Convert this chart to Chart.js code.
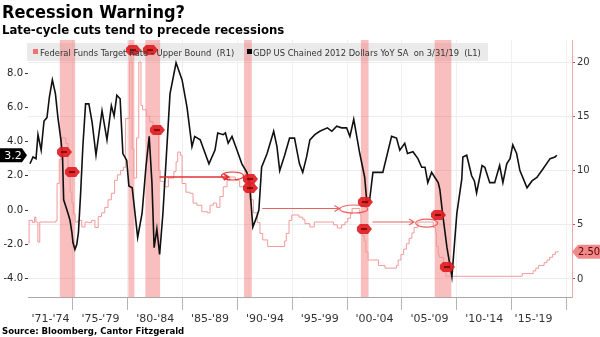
<!DOCTYPE html>
<html>
<head>
<meta charset="utf-8">
<script src="https://cdn.jsdelivr.net/npm/chart.js@4.4.1/dist/chart.umd.min.js"></script>
<style>
html, body { margin: 0; padding: 0; background: #fff; }
#wrap { position: relative; width: 600px; height: 337px; overflow: hidden; }
#chart { position: absolute; left: 0; top: 0; }
.t { position: absolute; left: 2px; font-family: "DejaVu Sans Condensed", "DejaVu Sans", sans-serif; font-weight: bold; color: #000; white-space: nowrap; }
#title { top: 1px; font-size: 18px; }
#sub { top: 22px; font-size: 13px; }
#src { top: 325px; font-size: 9.5px; }
</style>
</head>
<body>
<div id="wrap">
  <canvas id="chart" width="600" height="337"></canvas>
  <div class="t" id="title">Recession Warning?</div>
  <div class="t" id="sub">Late-cycle cuts tend to precede recessions</div>
  <div class="t" id="src">Source: Bloomberg, Cantor Fitzgerald</div>
</div>
<script>
// ---- data ----
// GDP US chained 2012 dollars, YoY % (left axis)
const gdpDates = [
  1971.08, 1971.36, 1971.63, 1971.81, 1972.1, 1972.36, 1972.63, 1972.85, 1973.12, 1973.4,
  1973.63, 1973.9, 1974.05, 1974.15, 1974.4, 1974.55, 1974.73, 1974.9, 1975.0, 1975.18,
  1975.35, 1975.5, 1975.7, 1975.9, 1976.15, 1976.45, 1976.75, 1977.1, 1977.65, 1978.1,
  1978.5, 1978.75, 1979.0, 1979.3, 1979.55, 1979.9, 1980.1, 1980.4, 1980.9, 1981.3,
  1981.65, 1981.95, 1982.2, 1982.4, 1982.65, 1982.9, 1983.2, 1983.5, 1983.85, 1984.4,
  1984.95, 1985.4, 1985.85, 1986.1, 1986.6, 1987.4, 1987.95, 1988.2, 1988.7, 1988.9,
  1989.15, 1989.5, 1989.95, 1990.4, 1990.85, 1991.1, 1991.4, 1991.75, 1991.95, 1992.2,
  1992.7, 1993.3, 1993.6, 1993.85, 1994.3, 1994.75, 1995.2, 1995.65, 1995.95, 1996.3,
  1996.6, 1997.05, 1997.5, 1998.2, 1998.6, 1999.05, 1999.5, 1999.95, 2000.25, 2000.6,
  2001.15, 2001.6, 2001.8, 2002.05, 2002.35, 2003.0, 2003.25, 2004.05, 2004.5, 2004.8,
  2005.25, 2005.5, 2006.0, 2006.45, 2006.8, 2007.1, 2007.35, 2007.7, 2008.0, 2008.3,
  2008.45, 2008.7, 2009.1, 2009.55, 2010.0, 2010.45, 2010.55, 2010.9, 2011.35, 2011.6,
  2011.8, 2012.3, 2012.55, 2013.0, 2013.45, 2013.9, 2014.2, 2014.55, 2014.85, 2015.1,
  2015.45, 2015.75, 2016.4, 2016.85, 2017.3, 2017.85, 2018.5, 2018.95, 2019.12
];
const gdpValues = [
  2.7, 3.1, 3.0, 4.4, 3.5, 5.2, 5.4, 6.6, 7.6, 6.8,
  5.4, 4.1, 3.1, 0.6, 0.1, -0.2, -0.6, -1.3, -1.9, -2.3,
  -2.0, -1.3, 1.0, 3.7, 6.2, 6.2, 5.1, 3.2, 5.8, 4.1,
  6.1, 5.5, 6.7, 6.5, 3.3, 2.9, 1.4, 1.3, -1.6, -0.2,
  2.5, 4.3, 1.6, -2.2, -1.1, -2.6, -0.2, 3.0, 6.8, 8.6,
  7.6, 6.0, 3.7, 4.3, 4.1, 2.7, 3.5, 4.5, 4.4, 4.5,
  3.9, 4.3, 3.5, 2.7, 2.2, 1.6, -1.0, -0.4, 0.0, 2.5,
  3.3, 4.6, 3.7, 2.3, 3.2, 4.2, 4.2, 2.7, 2.2, 3.1,
  4.1, 4.4, 4.6, 4.8, 4.6, 4.9, 4.8, 4.8, 4.3, 5.3,
  3.3, 1.9, 0.4, 0.6, 2.2, 2.2, 2.2, 4.3, 4.2, 3.5,
  3.9, 3.3, 3.4, 3.0, 2.5, 2.5, 1.6, 2.2, 1.9, 1.6,
  1.2, -0.2, -2.2, -3.9, -0.2, 1.8, 3.1, 3.2, 2.0, 1.7,
  1.0, 2.6, 2.5, 1.6, 1.6, 2.6, 1.6, 2.7, 3.0, 3.8,
  3.3, 2.3, 1.3, 1.7, 1.9, 2.4, 3.0, 3.1, 3.2
];

// Federal funds target rate, upper bound, % (right axis)
const fedDates = [
  1970.92, 1971.0, 1971.3, 1971.5, 1971.62, 1971.8, 1971.97, 1973.45, 1973.55, 1973.75,
  1973.95, 1974.35, 1974.55, 1974.75, 1974.9, 1975.05, 1975.2, 1975.45, 1975.8, 1976.1,
  1976.4, 1976.7, 1977.0, 1977.3, 1977.6, 1977.9, 1978.2, 1978.5, 1978.8, 1979.05,
  1979.35, 1979.6, 1979.8, 1980.15, 1980.4, 1980.55, 1980.8, 1981.0, 1981.2, 1981.35,
  1981.7, 1982.0, 1982.3, 1982.65, 1982.8, 1982.95, 1983.3, 1983.7, 1984.2, 1984.4,
  1984.55, 1984.8, 1984.95, 1985.3, 1985.65, 1985.95, 1986.3, 1986.75, 1987.25, 1987.5,
  1987.8, 1988.1, 1988.4, 1988.7, 1989.05, 1989.3, 1989.8, 1990.2, 1990.9, 1991.1,
  1991.45, 1991.8, 1992.05, 1992.3, 1992.75, 1994.3, 1994.45, 1994.7, 1994.95, 1995.6,
  1995.95, 1996.15, 1996.6, 1997.0, 1998.75, 1999.1, 1999.5, 1999.8, 2000.05, 2000.3,
  2000.45, 2001.15, 2001.25, 2001.4, 2001.55, 2001.7, 2001.9, 2002.85, 2003.45, 2004.5,
  2004.65, 2004.9, 2005.15, 2005.4, 2005.65, 2005.9, 2006.1, 2006.45, 2007.85, 2008.05,
  2008.15, 2008.3, 2008.4, 2008.8, 2009.0, 2015.96, 2016.96, 2017.2, 2017.46, 2017.96,
  2018.22, 2018.46, 2018.74, 2018.97, 2019.3
];
const fedValues = [
  3.3, 5.4, 5.2, 5.7, 5.25, 3.4, 5.25, 5.4, 8.8, 11.0,
  13.0, 12.5, 9.4, 8.0, 7.0, 6.0, 5.25, 5.4, 4.8, 5.25,
  5.2, 5.4, 4.75, 5.75, 6.1, 6.6, 7.3, 7.9, 9.1, 9.6,
  10.0, 10.3, 14.8, 20.0, 12.0, 9.3, 13.0, 20.0, 16.0, 15.6,
  15.0, 14.5, 13.5, 13.3, 10.0, 9.0, 8.5, 9.3, 9.9, 10.8,
  11.7, 11.4, 8.8, 8.0, 7.9, 7.0, 6.8, 6.2, 6.1, 6.8,
  7.0, 6.6, 7.6, 8.5, 9.1, 9.4, 9.1, 8.5, 8.0, 7.3,
  6.1, 5.2, 4.2, 3.6, 3.0, 3.5, 4.2, 5.4, 5.9, 5.7,
  5.5, 5.1, 4.8, 5.25, 5.0, 4.7, 5.0, 5.25, 5.6, 6.0,
  6.5, 6.0, 5.0, 4.0, 3.5, 2.5, 1.75, 1.25, 1.0, 1.25,
  1.75, 2.25, 2.75, 3.25, 3.75, 4.25, 4.75, 5.25, 4.75, 4.25,
  3.0, 2.25, 2.0, 1.0, 0.25, 0.5, 0.75, 1.0, 1.25, 1.5,
  1.75, 2.0, 2.25, 2.5, 2.5
];

// US recessions (shaded)
const recessionStarts = [1973.8, 1980.05, 1981.6, 1990.6, 2001.25, 2007.98];
const recessionEnds   = [1975.2, 1980.6, 1982.95, 1991.3, 2001.95, 2009.5];

// x axis: period labels and the year boundaries between them
const periodLabels  = ["'71-'74", "'75-'79", "'80-'84", "'85-'89", "'90-'94", "'95-'99", "'00-'04", "'05-'09", "'10-'14", "'15-'19"];
const periodCenters = [1972.95, 1977.5, 1982.5, 1987.5, 1992.5, 1997.5, 2002.5, 2007.5, 2012.5, 2017.0];
const boundaryYears = [1975, 1980, 1985, 1990, 1995, 2000, 2005, 2010, 2015, 2020];

// red callout tags (year, left-axis value)
const calloutYears  = [1974.18, 1974.91, 1980.47, 1982.02, 1982.66, 1991.14, 1991.14, 2001.62, 2001.53, 2008.28, 2009.1];
const calloutLevels = [3.39, 2.22, 9.34, 9.34, 4.67, 1.81, 1.28, 0.47, -1.11, -0.29, -3.33];

// hand drawn arrows (years, right-axis level) ending in a ring
const arrowFrom   = [1982.9, 1992.25, 2002.3];
const arrowTo     = [1989.2, 1999.3, 2006.1];
const arrowLevel  = [9.4, 6.5, 5.25];
const ringCenters = [1989.55, 2000.6, 2007.25];
const ringLevels  = [9.5, 6.45, 5.15];

const fedColor = '#f29a9a';
const legendFont = '9.3px "DejaVu Sans Condensed", "DejaVu Sans", sans-serif';

function isBoundary(v) { return boundaryYears.includes(v); }

const overlay = {
  id: 'overlay',
  beforeDatasetsDraw(chart) {
    const { ctx, chartArea: a, scales: { x } } = chart;
    ctx.save();
    // legend strip
    ctx.fillStyle = 'rgba(232,232,232,0.9)';
    ctx.fillRect(a.left - 1, 43, 461, 18);
    // recession bars
    ctx.fillStyle = 'rgba(242,110,110,0.45)';
    recessionStarts.forEach((s, i) => {
      const x1 = x.getPixelForValue(s);
      const x2 = x.getPixelForValue(recessionEnds[i]);
      ctx.fillRect(x1, a.top, x2 - x1, a.bottom - a.top);
    });
    ctx.restore();
  },
  afterDatasetsDraw(chart) {
    const { ctx, scales: { x, y, y1 } } = chart;
    ctx.save();

    // arrows + rings
    arrowFrom.forEach((f, i) => {
      ctx.strokeStyle = i === 0 ? 'rgba(226,40,40,0.95)' : 'rgba(228,70,70,0.85)';
      ctx.lineWidth = i === 0 ? 1.6 : 1.1;
      const py = y1.getPixelForValue(arrowLevel[i]);
      const x1 = x.getPixelForValue(f);
      const x2 = x.getPixelForValue(arrowTo[i]);
      ctx.beginPath();
      ctx.moveTo(x1, py); ctx.lineTo(x2, py);
      ctx.moveTo(x2 - 5, py - 3); ctx.lineTo(x2, py); ctx.lineTo(x2 - 5, py + 3);
      ctx.stroke();
      ctx.lineWidth = 1.1;
      const cx = x.getPixelForValue(ringCenters[i]);
      const cy = y1.getPixelForValue(ringLevels[i]);
      ctx.beginPath();
      ctx.ellipse(cx, cy, i === 1 ? 14 : 11, 4, 0, 0, Math.PI * 2);
      ctx.stroke();
    });

    // callout tags
    calloutYears.forEach((yr, i) => {
      const px = x.getPixelForValue(yr);
      const py = y.getPixelForValue(calloutLevels[i]);
      ctx.beginPath();
      ctx.moveTo(px - 7, py - 2); ctx.lineTo(px - 4, py - 5); ctx.lineTo(px + 4, py - 5);
      ctx.lineTo(px + 8, py); ctx.lineTo(px + 4, py + 5); ctx.lineTo(px - 4, py + 5);
      ctx.lineTo(px - 7, py + 2); ctx.closePath();
      ctx.fillStyle = 'rgba(224,32,36,0.92)';
      ctx.fill();
      ctx.fillStyle = 'rgba(120,0,0,0.8)';
      ctx.fillRect(px - 3, py - 1, 6, 2);
    });

    // legend text
    ctx.font = legendFont;
    ctx.textBaseline = 'alphabetic';
    ctx.fillStyle = '#f07070';
    ctx.fillRect(33, 49, 5, 5);
    ctx.fillStyle = '#333';
    ctx.fillText('Federal Funds Target Rate - Upper Bound  (R1)', 40, 55.5);
    ctx.fillStyle = '#000';
    ctx.fillRect(247, 49, 5, 5);
    ctx.fillStyle = '#333';
    ctx.fillText('GDP US Chained 2012 Dollars YoY SA  on 3/31/19  (L1)', 253, 55.5);

    // last value tags
    const gy = y.getPixelForValue(gdpValues[gdpValues.length - 1]);
    ctx.beginPath();
    ctx.moveTo(0, gy - 7); ctx.lineTo(22, gy - 7); ctx.lineTo(27, gy);
    ctx.lineTo(22, gy + 7); ctx.lineTo(0, gy + 7); ctx.closePath();
    ctx.fillStyle = '#000'; ctx.fill();
    ctx.fillStyle = '#fff';
    ctx.font = '11px "DejaVu Sans", sans-serif';
    ctx.textAlign = 'center'; ctx.textBaseline = 'middle';
    ctx.fillText(gdpValues[gdpValues.length - 1].toFixed(1), 13, gy + 0.5);

    const fy = y1.getPixelForValue(fedValues[fedValues.length - 1]);
    ctx.beginPath();
    ctx.moveTo(572, fy); ctx.lineTo(578, fy - 7); ctx.lineTo(600, fy - 7);
    ctx.lineTo(600, fy + 7); ctx.lineTo(578, fy + 7); ctx.closePath();
    ctx.fillStyle = '#f08a8a'; ctx.fill();
    ctx.fillStyle = '#5a0000';
    ctx.font = '11px "DejaVu Sans Condensed", "DejaVu Sans", sans-serif';
    ctx.textAlign = 'left';
    ctx.fillText(fedValues[fedValues.length - 1].toFixed(2), 578, fy + 0.5);
    ctx.restore();
  }
};

new Chart(document.getElementById('chart'), {
  type: 'line',
  data: {
    datasets: [
      {
        label: 'GDP US Chained 2012 Dollars YoY SA',
        data: gdpDates.map((d, i) => ({ x: d, y: gdpValues[i] })),
        yAxisID: 'y',
        borderColor: '#111',
        borderWidth: 1.6,
        pointRadius: 0,
        tension: 0
      },
      {
        label: 'Federal Funds Target Rate - Upper Bound',
        data: fedDates.map((d, i) => ({ x: d, y: fedValues[i] })),
        yAxisID: 'y1',
        borderColor: fedColor,
        borderWidth: 1,
        pointRadius: 0,
        stepped: true
      }
    ]
  },
  options: {
    responsive: false,
    animation: false,
    events: [],
    layout: { padding: { top: 40, left: 0, right: 0, bottom: 0 } },
    plugins: { legend: { display: false }, tooltip: { enabled: false } },
    scales: {
      x: {
        type: 'linear',
        min: 1970.9,
        max: 2020.5,
        afterBuildTicks: s => {
          s.ticks = periodCenters.concat(boundaryYears).sort((a, b) => a - b).map(v => ({ value: v }));
        },
        afterFit: s => { s.height = 40; },
        ticks: {
          autoSkip: false,
          maxRotation: 0,
          padding: 3,
          color: '#333',
          font: { family: 'DejaVu Sans', size: 11 },
          callback: v => {
            const i = periodCenters.indexOf(v);
            return i >= 0 ? periodLabels[i] : '';
          }
        },
        grid: {
          color: c => (c.tick && isBoundary(c.tick.value)) ? '#f0f0f0' : 'rgba(0,0,0,0)',
          tickColor: c => (c.tick && isBoundary(c.tick.value)) ? '#b5b5b5' : 'rgba(0,0,0,0)',
          tickLength: 13
        },
        border: { display: true, color: '#a8a8a8' }
      },
      y: {
        position: 'left',
        min: -5.08,
        max: 9.93,
        afterFit: s => { s.width = 28; },
        ticks: {
          stepSize: 2,
          includeBounds: false,
          padding: 2,
          color: '#222',
          font: { family: 'DejaVu Sans', size: 10 },
          callback: v => v.toFixed(1)
        },
        grid: { drawOnChartArea: false, tickLength: 3, tickColor: '#333' },
        border: { display: false }
      },
      y1: {
        position: 'right',
        min: -1.66,
        max: 22.03,
        afterFit: s => { s.width = 28; },
        ticks: {
          stepSize: 5,
          includeBounds: false,
          padding: 2,
          color: '#333',
          font: { family: 'DejaVu Sans', size: 10 }
        },
        grid: { color: '#ececec', tickLength: 3, tickColor: '#c05050' },
        border: { display: true, color: '#f2a8a8' }
      }
    }
  },
  plugins: [overlay]
});
</script>
</body>
</html>
